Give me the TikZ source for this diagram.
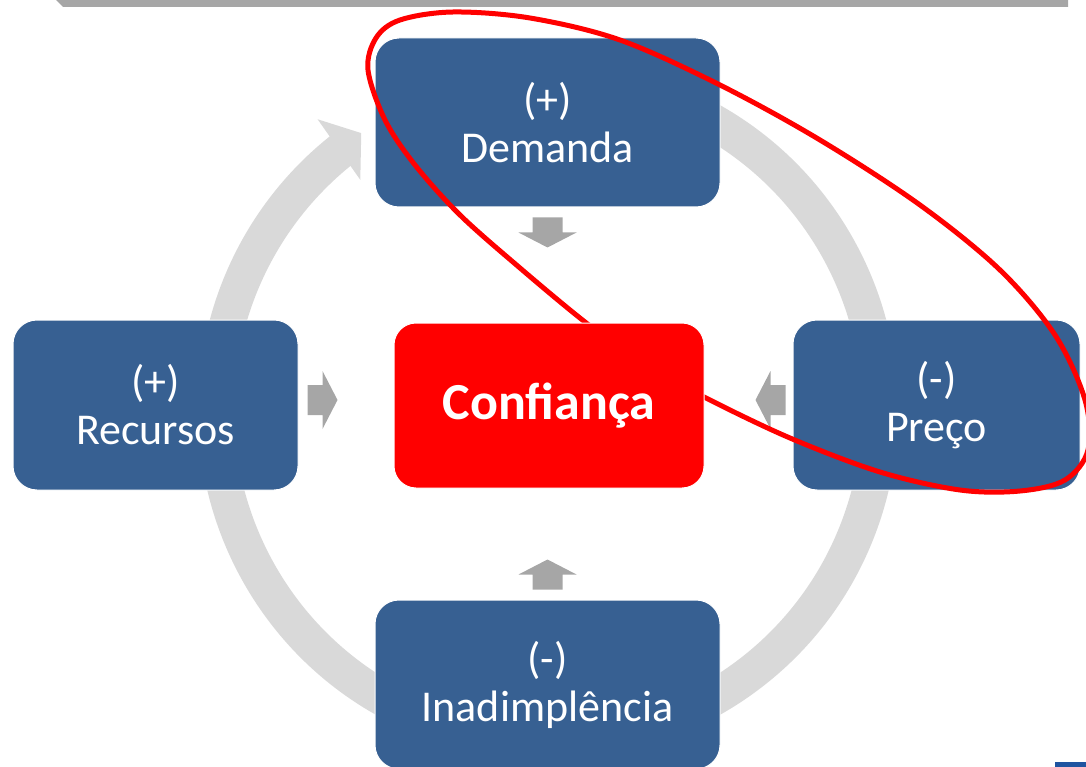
\documentclass[tikz,border=0pt]{standalone}
\usepackage{fontspec}
\setmainfont{Carlito}
\definecolor{boxblue}{RGB}{55,96,146}
\definecolor{ringgray}{RGB}{217,217,217}
\definecolor{arrowgray}{RGB}{166,166,166}
\definecolor{logoblue}{RGB}{31,84,160}
\begin{document}
\begin{tikzpicture}[x=1pt,y=-1pt,
  box/.style={rounded corners=24pt,fill=boxblue,draw=white,line width=1pt,text=white,
    align=center,inner sep=0pt,font=\fontsize{44}{48}\selectfont},
  redbox/.style={box,fill=red,rounded corners=22pt,font=\fontsize{52}{58}\selectfont\bfseries},
  ringline/.style={draw=ringgray,line width=36pt},
  pics/blockarrow/.style={code={
    \fill[arrowgray] (-15,-15) -- (0,-15) -- (0,-29) -- (15,0) -- (0,29) -- (0,15) -- (-15,15) -- cycle;}}]
\useasboundingbox (0,0) rectangle (1086,767);
% top bar and corner of the logo
\fill[arrowgray] (56,0) -- (1068,0) -- (1068,7) -- (63,7) -- cycle;
\fill[logoblue] (1055,762) rectangle (1086,767);
% cycle ring
\coordinate (ctr) at (548,410);
\draw[ringline] ([shift={(70:332pt)}]ctr) arc[start angle=70,end angle=-232,radius=332pt];
\fill[ringgray] ([shift={(128.4:371pt)}]ctr) -- ([shift={(124:334pt)}]ctr)
  -- ([shift={(129.2:297pt)}]ctr) -- cycle;
% outer boxes
\node[box,minimum width=345pt,minimum height=169pt] (demanda) at (547.5,122.5) {(+)\\Demanda};
\node[box,minimum width=285pt,minimum height=170pt] (recursos) at (155.5,405) {(+)\\Recursos};
\node[box,minimum width=287pt,minimum height=170pt] (preco) at (936.5,405) {(-)\\Preço};
\node[box,minimum width=345pt,minimum height=169pt] (inad) at (547.5,684.5) {(-)\\Inadimplência};
% small arrows to the centre
\path (demanda.south) ++(0,25) pic[rotate=-90] {blockarrow};
\path (recursos.east) ++(24,-5) pic {blockarrow};
\path (preco.west) ++(-22,-5) pic[rotate=180] {blockarrow};
\path (inad.north) ++(0,-25) pic[rotate=90] {blockarrow};
% red loop
\draw[red,line width=5pt] plot[smooth cycle,tension=0.55] coordinates {
  (368,70) (376,38) (400,20) (453,12) (530,18) (620,40) (720,85) (820,140) (920,205)
  (1000,270) (1055,335) (1085,400) (1088,450) (1065,480) (1020,491) (960,490) (880,472)
  (790,438) (704,397) (640,362) (585,322) (520,268) (460,215) (415,165) (385,120)};
\node[redbox,minimum width=310pt,minimum height=165pt] (conf) at (549,405.5) {Confiança};
\end{tikzpicture}
\end{document}
